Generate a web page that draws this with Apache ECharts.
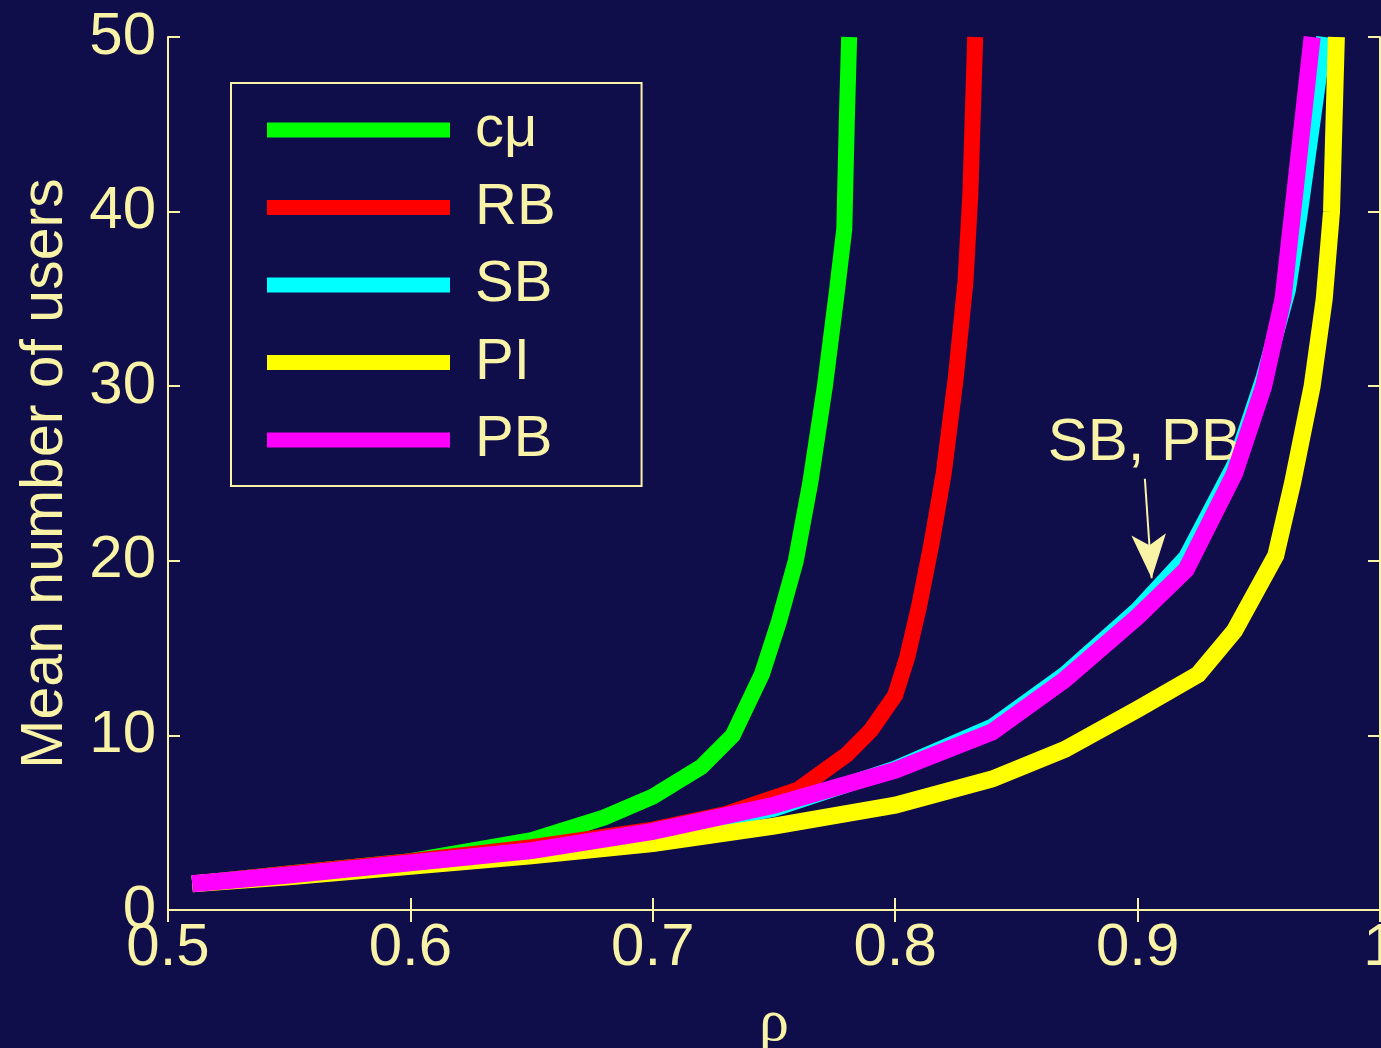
<!DOCTYPE html>
<html>
<head>
<meta charset="utf-8">
<script src="https://cdn.jsdelivr.net/npm/echarts@6/dist/echarts.min.js"></script>
<style>
html,body{margin:0;padding:0;background:#100d4b;}
#main{width:1381px;height:1048px;}
</style>
</head>
<body>
<div id="main"></div>
<script>
// ---- data (rho, mean number of users) ----
const seriesNames = ['c\u03bc', 'RB', 'SB', 'PI', 'PB'];
const xTicks = [0.5, 0.6, 0.7, 0.8, 0.9, 1];
const yTicks = [0, 10, 20, 30, 40, 50];

const cmu = [[0.51,1.5],[0.55,2.1],[0.6,2.8],[0.65,4.0],[0.68,5.3],[0.70,6.5],[0.72,8.2],[0.733,10.0],[0.745,13.5],[0.752,16.5],[0.759,20],[0.765,24.5],[0.771,30],[0.776,35.5],[0.779,39],[0.780,45],[0.781,50]];
const rb = [[0.51,1.5],[0.55,2.1],[0.6,2.8],[0.65,3.6],[0.7,4.6],[0.73,5.5],[0.76,6.9],[0.78,8.9],[0.79,10.3],[0.80,12.3],[0.805,14.5],[0.81,17.5],[0.815,21],[0.82,25],[0.825,30.5],[0.829,36],[0.831,41],[0.833,50]];
const sb = [[0.51,1.5],[0.55,2.0],[0.6,2.7],[0.65,3.4],[0.7,4.4],[0.75,5.8],[0.8,8.1],[0.84,10.5],[0.87,13.5],[0.9,17.2],[0.92,20.2],[0.94,25.5],[0.952,30.5],[0.962,35.5],[0.967,40],[0.972,45],[0.977,50]];
const pi = [[0.51,1.5],[0.55,1.9],[0.6,2.5],[0.65,3.1],[0.7,3.8],[0.75,4.8],[0.8,6.0],[0.84,7.5],[0.87,9.2],[0.9,11.5],[0.925,13.5],[0.94,16],[0.957,20.3],[0.964,24.5],[0.972,30],[0.977,35],[0.98,40],[0.981,45],[0.982,50]];
const pb = [[0.51,1.5],[0.55,2.0],[0.6,2.7],[0.65,3.4],[0.7,4.5],[0.75,6.0],[0.8,8.0],[0.84,10.2],[0.87,13.2],[0.9,16.8],[0.92,19.5],[0.94,25],[0.952,30],[0.96,35],[0.964,40],[0.968,45],[0.972,50]];

const annotationText = 'SB, PB';
const annotationPos = [0.9028, 26.7];
const arrowFrom = [0.9030, 24.7];
const arrowTo = [0.9058, 19.0];

const seriesData = [cmu, rb, sb, pi, pb];
const colors = ['#00ff00', '#ff0000', '#00ffff', '#ffff00', '#ff00ff'];
const widths = [16, 16, 16, 17, 17];

const fg = '#f8f3a6';
const bg = '#100d4b';
const font = '"Liberation Sans", Arial, Helvetica, sans-serif';

const chart = echarts.init(document.getElementById('main'), null, {renderer: 'canvas'});

const series = seriesData.map((d, i) => ({
  name: seriesNames[i],
  type: 'line',
  data: d,
  xAxisIndex: 0,
  yAxisIndex: 0,
  symbol: 'none',
  smooth: false,
  color: colors[i],
  lineStyle: {color: colors[i], width: widths[i], cap: 'butt', join: 'miter'},
  animation: false,
  z: 2 + i
}));

// annotation attached to the last series
series[4].markLine = {
  silent: true,
  animation: false,
  symbol: ['none', 'arrow'],
  symbolSize: [26, 44],
  lineStyle: {color: fg, width: 2, type: 'solid'},
  label: {show: false},
  data: [[{coord: arrowFrom}, {coord: arrowTo}]]
};
series[4].markPoint = {
  silent: true,
  animation: false,
  symbol: 'circle',
  symbolSize: 0,
  label: {
    show: true, position: 'inside', formatter: annotationText,
    color: fg, fontSize: 60, fontFamily: font
  },
  data: [{coord: annotationPos}]
};

const axisCommon = {
  type: 'value',
  splitLine: {show: false},
  axisLine: {show: true, lineStyle: {color: fg, width: 2}},
  axisTick: {show: true, inside: true, length: 12, lineStyle: {color: fg, width: 2}}
};

const option = {
  backgroundColor: bg,
  animation: false,
  grid: {left: 168, top: 37, right: 1, bottom: 138, containLabel: false, outerBoundsMode: 'none', show: false},
  legend: {
    orient: 'vertical',
    left: 231, top: 83,
    padding: [17, 86, 16, 36],
    itemGap: 17.5,
    itemWidth: 183, itemHeight: 15,
    icon: 'rect',
    borderColor: fg, borderWidth: 2,
    backgroundColor: bg,
    selectedMode: false,
    data: seriesNames,
    textStyle: {color: fg, fontSize: 58, fontFamily: font, lineHeight: 60, padding: [0, 0, 0, 20]}
  },
  xAxis: [
    Object.assign({}, axisCommon, {
      position: 'bottom', min: 0.5, max: 1, interval: 0.1,
      axisLabel: {color: fg, fontSize: 60, fontFamily: font, margin: 8,
        formatter: v => (Math.abs(v - 1) < 1e-9 ? '1' : v.toFixed(1))},
      name: '\u03c1', nameLocation: 'middle', nameGap: 84,
      nameTextStyle: {color: fg, fontSize: 60, fontFamily: '"Liberation Serif", serif'}
    }),
    Object.assign({}, axisCommon, {
      position: 'top', min: 0.5, max: 1, interval: 0.1,
      axisLabel: {show: false}
    })
  ],
  yAxis: [
    Object.assign({}, axisCommon, {
      position: 'left', min: 0, max: 50, interval: 10,
      axisLabel: {color: fg, fontSize: 60, fontFamily: font, margin: 12},
      name: 'Mean number of users', nameLocation: 'middle', nameGap: 93,
      nameTextStyle: {color: fg, fontSize: 59, fontFamily: font}
    }),
    Object.assign({}, axisCommon, {
      position: 'right', min: 0, max: 50, interval: 10,
      axisLabel: {show: false}
    })
  ],
  series: series
};

chart.setOption(option);
</script>
</body>
</html>
